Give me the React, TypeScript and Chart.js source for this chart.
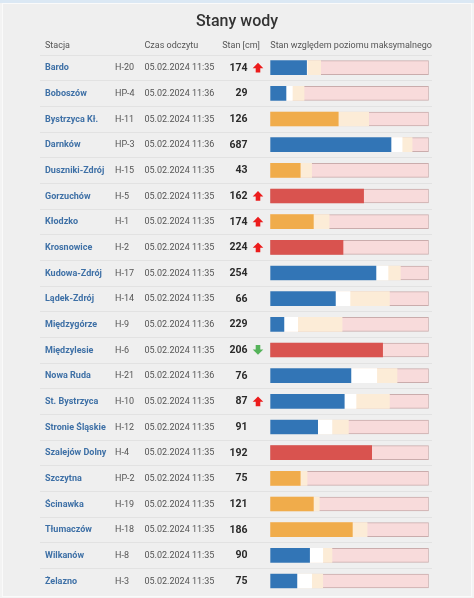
import { useEffect, useRef } from "react";
import { Chart, registerables } from "chart.js";

Chart.register(...registerables);

const chartTitle = "Stany wody";
const headerStation = "Stacja";
const headerTime = "Czas odczytu";
const headerLevel = "Stan [cm]";
const headerBar = "Stan względem poziomu maksymalnego";

const stations = [
  "Bardo", "Boboszów", "Bystrzyca Kł.", "Darnków", "Duszniki-Zdrój", "Gorzuchów", "Kłodzko",
  "Krosnowice", "Kudowa-Zdrój", "Lądek-Zdrój", "Międzygórze", "Międzylesie", "Nowa Ruda",
  "St. Bystrzyca", "Stronie Śląskie", "Szalejów Dolny", "Szczytna", "Ścinawka", "Tłumaczów",
  "Wilkanów", "Żelazno",
];
const codes = [
  "H-20", "HP-4", "H-11", "HP-3", "H-15", "H-5", "H-1", "H-2", "H-17", "H-14", "H-9", "H-6",
  "H-21", "H-10", "H-12", "H-4", "HP-2", "H-19", "H-18", "H-8", "H-3",
];
const readTimes = [
  "05.02.2024 11:35", "05.02.2024 11:36", "05.02.2024 11:35", "05.02.2024 11:36",
  "05.02.2024 11:35", "05.02.2024 11:35", "05.02.2024 11:35", "05.02.2024 11:35",
  "05.02.2024 11:35", "05.02.2024 11:35", "05.02.2024 11:36", "05.02.2024 11:35",
  "05.02.2024 11:36", "05.02.2024 11:35", "05.02.2024 11:35", "05.02.2024 11:35",
  "05.02.2024 11:35", "05.02.2024 11:35", "05.02.2024 11:35", "05.02.2024 11:35",
  "05.02.2024 11:35",
];
const levels = [174, 29, 126, 687, 43, 162, 174, 224, 254, 66, 229, 206, 76, 87, 91, 192, 75, 121, 186, 90, 75];
const trends = ["up", "", "", "", "", "up", "up", "up", "", "", "", "down", "", "up", "", "", "", "", "", "", ""];
// percent of maximal level
const fillPercent = [22.9, 9.9, 42.9, 76.2, 18.9, 58.9, 27.2, 45.9, 66.7, 41.1, 8.6, 70.9, 50.9, 46.7, 29.9, 64.0, 18.9, 27.2, 51.8, 24.8, 16.8];
const warningPercent = [23.3, 13.9, null, 83.2, null, null, null, null, 74.3, 50.3, 17.3, null, 67.2, 54.1, 38.9, null, null, null, null, 33.1, 26.1];
const alarmPercent = [31.8, 21.3, 62.1, 89.5, 26.1, null, 37.1, null, 82.1, 75.2, 45.3, null, 80.0, 75.2, 49.3, null, 23.2, 30.9, 61.1, 38.9, 33.1];
const statuses = [
  "normal", "normal", "warning", "normal", "warning", "alarm", "warning", "alarm", "normal", "normal",
  "normal", "alarm", "normal", "normal", "normal", "alarm", "warning", "warning", "warning", "normal", "normal",
];
const maxPercent = stations.map(() => 100);

const statusColors: Record<string, string> = { normal: "#3275b6", warning: "#f0ac4b", alarm: "#d9534f" };
const FONT = "Roboto, 'Noto Sans', sans-serif";

function drawArrow(ctx: CanvasRenderingContext2D, cx: number, cy: number, dir: string) {
  const w = 10.6, h = 9.8, headH = 5.4, stemW = 4.6;
  const s = dir === "up" ? 1 : -1;
  const tip = cy - (s * h) / 2;
  const base = cy + (s * h) / 2;
  const neck = tip + s * headH;
  ctx.beginPath();
  ctx.moveTo(cx, tip);
  ctx.lineTo(cx + w / 2, neck);
  ctx.lineTo(cx + stemW / 2, neck);
  ctx.lineTo(cx + stemW / 2, base);
  ctx.lineTo(cx - stemW / 2, base);
  ctx.lineTo(cx - stemW / 2, neck);
  ctx.lineTo(cx - w / 2, neck);
  ctx.closePath();
  ctx.fillStyle = dir === "up" ? "#ec1c1c" : "#55b35a";
  ctx.fill();
}

const tablePlugin = {
  id: "tableText",
  beforeDatasetsDraw(chart: any) {
    const ctx: CanvasRenderingContext2D = chart.ctx;
    const y = chart.scales.y;
    const step = y.getPixelForValue(1) - y.getPixelForValue(0);
    ctx.save();
    ctx.strokeStyle = "#e2e2e2";
    ctx.lineWidth = 1;
    for (let i = 0; i < stations.length; i++) {
      const yy = Math.round(y.getPixelForValue(i) - step / 2) + 0.5;
      ctx.beginPath();
      ctx.moveTo(40, yy);
      ctx.lineTo(432, yy);
      ctx.stroke();
    }
    ctx.restore();
  },
  afterDraw(chart: any) {
    const ctx: CanvasRenderingContext2D = chart.ctx;
    const y = chart.scales.y;
    const left = chart.chartArea.left;
    ctx.save();
    ctx.textBaseline = "middle";
    // title
    ctx.fillStyle = "#333";
    ctx.textAlign = "center";
    ctx.font = `500 16px ${FONT}`;
    ctx.fillText(chartTitle, 237, 22);
    // headers
    ctx.font = `400 9px ${FONT}`;
    ctx.fillStyle = "#555";
    ctx.textAlign = "left";
    ctx.fillText(headerStation, 45, 46);
    ctx.fillText(headerTime, 144.5, 46);
    ctx.fillText(headerBar, left, 46);
    ctx.textAlign = "right";
    ctx.fillText(headerLevel, 260, 46);
    // rows
    stations.forEach((name, i) => {
      const cy = y.getPixelForValue(i) + 0.5;
      ctx.textAlign = "left";
      ctx.font = `700 9px ${FONT}`;
      ctx.fillStyle = "#3e70a6";
      ctx.fillText(name, 45, cy);
      ctx.font = `400 9px ${FONT}`;
      ctx.fillStyle = "#555";
      ctx.fillText(codes[i], 115, cy);
      ctx.fillText(readTimes[i], 144.5, cy);
      ctx.textAlign = "right";
      ctx.font = `700 10.5px ${FONT}`;
      ctx.fillStyle = "#2a2a2a";
      ctx.fillText(String(levels[i]), 247.5, cy);
      if (trends[i]) drawArrow(ctx, 258, cy - 0.5, trends[i]);
    });
    ctx.restore();
  },
};

export default function App() {
  const canvasRef = useRef<HTMLCanvasElement | null>(null);

  useEffect(() => {
    let chart: Chart | null = null;
    let cancelled = false;
    const build = () => {
      if (cancelled || !canvasRef.current) return;
      chart = new Chart(canvasRef.current, {
        type: "bar",
        data: {
          labels: stations,
          datasets: [
            {
              label: "Stan",
              data: fillPercent,
              backgroundColor: statuses.map((s) => statusColors[s]),
              order: 0,
            },
            {
              label: "Do stanu ostrzegawczego",
              data: warningPercent,
              backgroundColor: "#ffffff",
              order: 1,
            },
            {
              label: "Do stanu alarmowego",
              data: alarmPercent,
              backgroundColor: "#fcecd7",
              order: 2,
            },
            {
              label: "Maksimum",
              data: maxPercent,
              backgroundColor: "#f8dbdb",
              borderColor: "rgba(190,150,150,0.75)",
              borderWidth: 1,
              order: 3,
            },
          ] as any,
        },
        options: {
          indexAxis: "y",
          responsive: false,
          animation: false,
          devicePixelRatio: 1,
          datasets: { bar: { grouped: false, barThickness: 14, borderSkipped: false } as any },
          layout: { padding: { left: 270.3, right: 45.3, top: 54.8, bottom: 4.2 } },
          scales: {
            x: { min: 0, max: 100, display: false },
            y: { type: "category", display: false, offset: true },
          },
          plugins: { legend: { display: false }, title: { display: false }, tooltip: { enabled: false } },
        },
        plugins: [tablePlugin],
      });
    };
    const fontsReady = (document as any).fonts
      ? Promise.all([
          (document as any).fonts.load(`400 9px Roboto`),
          (document as any).fonts.load(`700 9px Roboto`),
          (document as any).fonts.load(`500 16px Roboto`),
        ]).catch(() => null)
      : Promise.resolve(null);
    fontsReady.then(build);
    return () => {
      cancelled = true;
      if (chart) chart.destroy();
    };
  }, []);

  return (
    <div style={{ position: "absolute", left: 0, top: 0, width: 474, height: 598, background: "#f3f3f3", overflow: "hidden" }}>
      <div style={{ position: "absolute", left: 0, top: 0, width: 474, height: 3, background: "#dbe8f4" }} />
      <div
        style={{
          position: "absolute", left: 2, top: 3, width: 468, height: 592,
          background: "#efefef", border: "1px solid #fafafa",
        }}
      />
      <canvas ref={canvasRef} width={474} height={598} style={{ position: "absolute", left: 0, top: 0, width: 474, height: 598 }} />
    </div>
  );
}
